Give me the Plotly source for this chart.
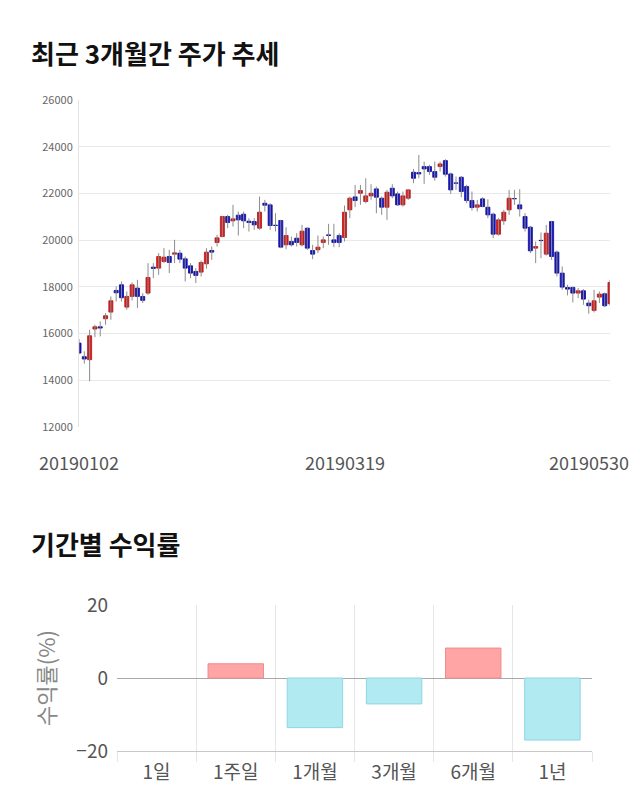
import plotly.graph_objects as go

# ---- candlestick data (trading-day index 0..100) ----
opens = [15594, 15010, 14881, 16193, 16292, 16635, 16920, 17846, 18089, 17133,
         17590, 17946, 17590, 17733, 18845, 18802, 19086, 19300, 19400, 19443,
         19200, 18901, 18660, 18631, 18987, 19557, 19899, 20155, 21011, 20826,
         21068, 21111, 20811, 20797, 20512, 21581, 21510, 20640, 20840, 19800,
         19942, 20084, 19800, 20512, 19557, 19586, 19900, 20227, 20013, 20198,
         20113, 21296, 21852, 22009, 21652, 21895, 22194, 21795, 21410, 22223,
         21981, 21510, 21795, 22907, 22892, 23149, 23149, 22935, 23149, 23406,
         22835, 22450, 22693, 22294, 21695, 21410, 21767, 21410, 21111, 20255,
         20826, 21296, 21781, 21510, 21011, 20555, 19657, 19990, 19400, 20797,
         19486, 18588, 17975, 17975, 17733, 17832, 17305, 16991, 17561, 17704,
         17276]
highs = [15765, 15240, 16164, 16378, 16520, 16877, 17590, 18018, 18232, 17804,
         18189, 18303, 17733, 19015, 19015, 19443, 19657, 19586, 20013, 19586,
         19300, 19015, 18802, 19129, 19657, 19728, 20227, 21040, 21082, 21510,
         21225, 21225, 20940, 20940, 21866, 21724, 21581, 21154, 20868, 20555,
         20155, 20298, 20654, 20540, 19800, 20198, 20155, 20698, 20698, 20298,
         21481, 21866, 22365, 22365, 22650, 22394, 22294, 21866, 22152, 22394,
         22080, 22080, 22180, 23049, 23648, 23363, 23220, 23363, 23363, 23463,
         22893, 22721, 22750, 22365, 22080, 21724, 21838, 21752, 21182, 20940,
         21296, 22151, 22151, 22180, 21154, 20612, 19942, 20327, 20654, 20826,
         19557, 18873, 18089, 18018, 17946, 17903, 17447, 17875, 17804, 17761,
         18300]
lows = [15138, 14710, 13955, 15850, 15879, 16378, 16592, 17376, 17376, 17020,
        17420, 17090, 17305, 17660, 18374, 18517, 19015, 18588, 19015, 19015,
        18232, 18374, 18160, 18446, 18773, 19157, 19728, 20113, 20512, 20583,
        20198, 20512, 20370, 20441, 20441, 21225, 20441, 20370, 19657, 19614,
        19728, 19728, 19728, 19585, 19186, 19443, 19657, 19800, 19700, 19700,
        19942, 20940, 21410, 21510, 21581, 21724, 21154, 21082, 20868, 21795,
        21467, 21438, 21724, 22436, 22650, 22408, 22793, 22550, 22935, 22721,
        21980, 22151, 21838, 21581, 21268, 21225, 21410, 20940, 20084, 20198,
        20654, 21082, 21510, 21011, 20370, 19443, 19015, 19229, 19343, 19158,
        18445, 17875, 17633, 17333, 17518, 17233, 16849, 16906, 17305, 17133,
        17190]
closes = [15166, 14910, 15907, 16292, 16236, 16763, 17404, 17746, 17533, 17590,
          18089, 17590, 17420, 18403, 18787, 19300, 19272, 19044, 19457, 19186,
          18802, 18588, 18488, 19044, 19486, 19486, 20098, 21011, 20754, 20911,
          20868, 20826, 20754, 20654, 21197, 21496, 20626, 20626, 19700, 20198,
          19800, 19900, 20384, 19657, 19400, 19700, 20013, 20198, 19900, 19900,
          21197, 21795, 21695, 22123, 21895, 22009, 21838, 21410, 22052, 21895,
          21510, 21895, 22152, 22650, 22835, 23049, 22935, 22693, 23263, 22821,
          22151, 22436, 22080, 21695, 21396, 21510, 21438, 21082, 20255, 20868,
          21197, 21795, 21767, 21339, 20512, 19543, 19728, 19980, 20298, 19300,
          18588, 17989, 17903, 17733, 17832, 17476, 17190, 17404, 17690, 17190,
          18189]
date_tick_pos = [0, 50, 100]
date_tick_text = ["20190102", "20190319", "20190530"]
price_ticks = [12000, 14000, 16000, 18000, 20000, 22000, 24000, 26000]

# ---- period return data ----
periods = ["1일", "1주일", "1개월", "3개월", "6개월", "1년"]
returns = [0.0, 3.9, -13.6, -7.1, 8.2, -17.0]

RED, RED_LINE = "#d81e1e", "#b01414"
BLUE, BLUE_LINE = "#1616c4", "#0a0a90"

n = len(opens)
xs = list(range(n))

wick_x, wick_y = [], []
for i in xs:
    wick_x += [i, i, None]
    wick_y += [lows[i], highs[i], None]

body_base = [min(o, c) for o, c in zip(opens, closes)]
body_h = [max(abs(c - o), 8) for o, c in zip(opens, closes)]
body_col = [RED if c >= o else BLUE for o, c in zip(opens, closes)]
body_line = [RED_LINE if c >= o else BLUE_LINE for o, c in zip(opens, closes)]

fig = go.Figure()
fig.add_trace(go.Scatter(x=wick_x, y=wick_y, mode="lines",
                         line=dict(color="#8c8c8c", width=1),
                         xaxis="x", yaxis="y", hoverinfo="skip", showlegend=False))
fig.add_trace(go.Bar(x=xs, y=body_h, base=body_base, width=0.76,
                     marker=dict(color=body_col, line=dict(color=body_line, width=0.8)),
                     xaxis="x", yaxis="y", showlegend=False))

bar_fill = ["#ffa5a5" if v > 0 else ("#b2eaf2" if v < 0 else "rgba(0,0,0,0)") for v in returns]
bar_edge = ["#f08a8a" if v > 0 else ("#8fd5e2" if v < 0 else "rgba(0,0,0,0)") for v in returns]
fig.add_trace(go.Bar(x=periods, y=returns, width=0.7,
                     marker=dict(color=bar_fill, line=dict(color=bar_edge, width=1)),
                     xaxis="x2", yaxis="y2", showlegend=False))

W, H = 640, 810
def px(x): return x / W
def py(y): return 1 - y / H

FONT = "Noto Sans CJK KR"

fig.update_layout(
    width=W, height=H,
    margin=dict(l=0, r=0, t=0, b=0),
    paper_bgcolor="white", plot_bgcolor="white",
    barmode="overlay",
    font=dict(family=FONT, color="#555"),
    xaxis=dict(domain=[px(79), px(610)], range=[0, n - 1], anchor="y",
               showgrid=False, zeroline=False, showticklabels=False,
               automargin=False, fixedrange=True),
    yaxis=dict(domain=[py(427), py(100)], range=[12000, 26000], anchor="x",
               tickvals=price_ticks, tickformat="d", showgrid=True, gridcolor="#e9e9e9",
               zeroline=False, showline=True, linecolor="#e3e3e3",
               tickfont=dict(size=11, color="#666", family=FONT),
               ticklabelstandoff=3, automargin=False),
    xaxis2=dict(domain=[px(117), px(592)], anchor="y2", type="category",
                tickson="boundaries", showgrid=True, gridcolor="#e6e6e6",
                ticks="outside", ticklen=10, tickcolor="#e6e6e6",
                showline=True, linecolor="#c8c8c8",
                tickfont=dict(size=19, color="#555", family=FONT),
                ticklabelstandoff=4, automargin=False),
    yaxis2=dict(domain=[py(751), py(605)], anchor="x2", range=[-20, 20],
                tickvals=[-20, 0, 20], showgrid=True, gridcolor="#e6e6e6",
                zeroline=True, zerolinecolor="#a8a8a8", zerolinewidth=1,
                tickfont=dict(size=19, color="#555", family=FONT),
                ticklabelstandoff=8, automargin=False),
)

annotations = [
    dict(text="<b>최근 3개월간 주가 추세</b>", x=px(29), y=py(52), xref="paper", yref="paper",
         xanchor="left", yanchor="middle", showarrow=False,
         font=dict(size=26, color="#111", family=FONT)),
    dict(text="<b>기간별 수익률</b>", x=px(29), y=py(543), xref="paper", yref="paper",
         xanchor="left", yanchor="middle", showarrow=False,
         font=dict(size=26, color="#111", family=FONT)),
    dict(text="수익률(%)", x=px(45), y=py(678), xref="paper", yref="paper",
         textangle=-90, xanchor="center", yanchor="middle", showarrow=False,
         font=dict(size=22, color="#888", family=FONT)),
]
for pos, txt in zip(date_tick_pos, date_tick_text):
    anchor = "center"
    shift = 0
    if pos == date_tick_pos[-1]:
        anchor, shift = "right", 21
    annotations.append(dict(text=txt, x=pos, xref="x", y=py(462), yref="paper",
                            xanchor=anchor, xshift=shift, yanchor="middle",
                            showarrow=False,
                            font=dict(size=18, color="#555", family=FONT)))
fig.update_layout(annotations=annotations)

fig.write_html("out.html")
